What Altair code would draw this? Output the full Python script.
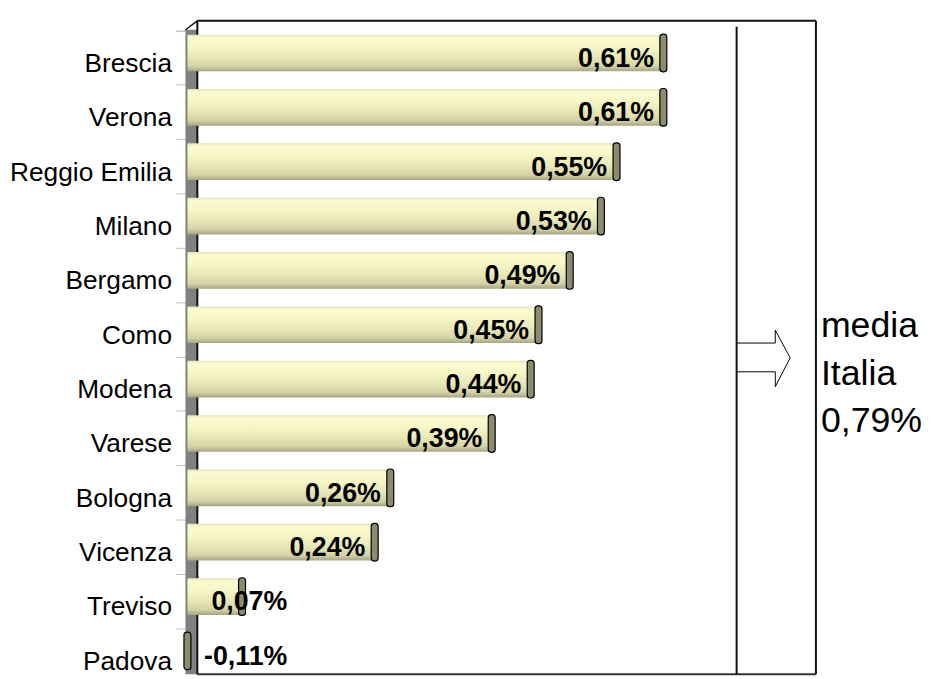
import altair as alt
import pandas as pd

# ---- data ----
cities = ["Brescia", "Verona", "Reggio Emilia", "Milano", "Bergamo", "Como\u00a0",
          "Modena", "Varese", "Bologna", "Vicenza", "Treviso", "Padova"]
values = [0.61, 0.61, 0.55, 0.53, 0.49, 0.45, 0.44, 0.39, 0.26, 0.24, 0.07, -0.11]
media_italia = 0.79


def it_pct(v):
    return f"{v:.2f}".replace(".", ",") + "%"


df = pd.DataFrame({"city": cities, "value": values,
                   "label": [it_pct(v) for v in values]})
one = pd.DataFrame({"d": [0]})

FONT = "Liberation Sans"
X_MAX = 0.8056

yaxis = alt.Axis(title=None, domain=False, grid=False, bandPosition=0, tickExtra=True,
                 tickColor="#c0c0c0", tickSize=10, tickWidth=1, offset=2,
                 labelPadding=4, labelFont=FONT, labelFontSize=26.5,
                 labelColor="black", labelAlign="right",
                 labelBaseline="alphabetic", labelOffset=14)
yscale = alt.Scale(paddingInner=0, paddingOuter=0)


def yenc():
    return alt.Y("city:N", sort=None, scale=yscale, axis=yaxis)


xscale = alt.Scale(domain=[0, X_MAX], clamp=True, nice=False, zero=True)

base = alt.Chart(df)

# left 3D wall
wall = alt.Chart(one).mark_rect(color="#808080").encode(
    x=alt.value(-2), x2=alt.value(10), y=alt.value(-1), y2=alt.value(649))


def seg(x1, y1, x2, y2, color="black", w=1.0):
    return alt.Chart(one).mark_rule(color=color, strokeWidth=w).encode(
        x=alt.value(x1), y=alt.value(y1), x2=alt.value(x2), y2=alt.value(y2))


frame = [
    seg(-2, -1, 10, -10, "#111", 1.5),   # 3D corner
    seg(10, -10, 634, -10, "#111", 2),   # top
    seg(634, -10, 634, 649, "#111", 2),  # right
    seg(10, 649, 634, 649, "#333", 2),   # bottom
    seg(10, -10, 10, 649, "#111", 2),    # left front edge
    seg(554, -4, 554, 649, "#111", 2),   # inner separator
]

grad = alt.Gradient(
    gradient="linear", x1=0, x2=0, y1=0, y2=1,
    stops=[
        alt.GradientStop(offset=0.0, color="#e4e3bc"),
        alt.GradientStop(offset=0.08, color="#fbfad2"),
        alt.GradientStop(offset=0.3, color="#f8f7c8"),
        alt.GradientStop(offset=0.6, color="#e9e8b8"),
        alt.GradientStop(offset=0.85, color="#d6d4a7"),
        alt.GradientStop(offset=0.93, color="#bdbb96"),
        alt.GradientStop(offset=1.0, color="#a6a482"),
    ],
)

bars = base.mark_bar(size=37, yOffset=-5, color=grad).encode(
    y=yenc(),
    x=alt.X("value:Q", scale=xscale, axis=None),
)

caps = base.mark_tick(thickness=7, size=38, cornerRadius=3, color="#8c8b6d",
                      stroke="black", strokeWidth=1.2, yOffset=-5,
                      opacity=1).encode(
    y=yenc(),
    x=alt.X("value:Q", scale=xscale, axis=None),
)

labels = base.transform_calculate(
    lx="max(datum.value, 0.14) - 0.012"
).mark_text(align="right", baseline="alphabetic", dy=9, font=FONT,
            fontSize=27, fontWeight="bold", color="black").encode(
    y=yenc(),
    x=alt.X("lx:Q", scale=xscale, axis=None),
    text="label:N",
)

arrow = [
    seg(554, 315, 593, 315),
    seg(593, 315, 593, 302),
    seg(593, 302, 608, 330),
    seg(608, 330, 593, 359),
    seg(593, 359, 593, 344),
    seg(593, 344, 554, 344),
]

media_lines = ["media", "Italia", it_pct(media_italia)]
media_text = alt.Chart(one).mark_text(
    align="left", baseline="alphabetic", font=FONT, fontSize=36,
    lineHeight=48, color="black", text=media_lines
).encode(x=alt.value(639), y=alt.value(309))

chart = alt.layer(wall, *frame, bars, caps, labels, *arrow, media_text).properties(
    width=634, height=658,
    padding={"left": 181, "top": 20, "right": 108, "bottom": 0},
    autosize=alt.AutoSizeParams(type="none"),
    background="white",
).configure_view(stroke=None)

chart.save("out.html", embed_options={"renderer": "svg", "actions": False})
